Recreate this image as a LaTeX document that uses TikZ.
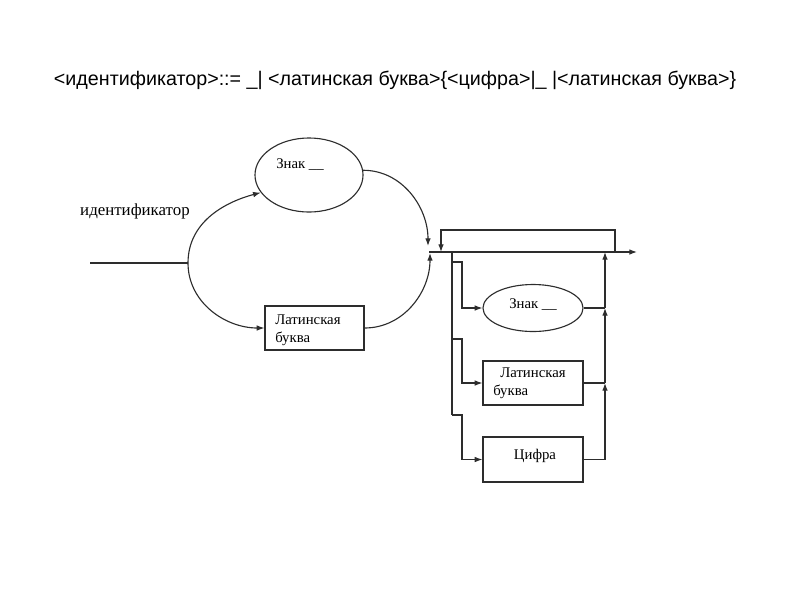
\documentclass[tikz,border=0pt]{standalone}
\usepackage{fontspec}
\setmainfont{Liberation Serif}
\newfontfamily\titlefont{Liberation Sans}
\usetikzlibrary{shapes.geometric,arrows.meta}
\definecolor{ln}{RGB}{45,45,45}
\def\boxw{2.5cm}
\def\boxh{1.1cm}
\tikzset{
  pbox/.style={draw=ln,line width=0.8pt,rectangle,minimum width=\boxw,minimum height=\boxh,inner sep=0pt},
  pell/.style={draw=ln,line width=0.8pt,ellipse,inner sep=0pt},
  txt/.style={font=\fontsize{10.5}{12.5}\selectfont,inner sep=0pt},
  flow/.style={draw=ln,line width=0.8pt},
}

\begin{document}
\begin{tikzpicture}[x=0.025cm,y=-0.025cm,>={Latex[length=5.5pt,width=4pt]}]
\useasboundingbox (0,0) rectangle (800,600);
\node[font=\titlefont\fontsize{14}{16}\selectfont] (title) at (395,80)
  {<идентификатор>::= \_| <латинская буква>\{<цифра>|\_ |<латинская буква>\}};

% left part
\node[txt,font=\fontsize{12}{14}\selectfont] (name) at (135,211) {идентификатор};
\coordinate (in) at (90,263);
\coordinate (split) at (188,263);
\node[pell,minimum width=2.7cm,minimum height=1.85cm] (zn1) at (309,175) {};
\node[txt] (zn1t) at (300,165) {Знак \_\_};
\node[pbox,minimum width=2.475cm] (lb1) at (314.5,328) {};
\node[txt,align=left,anchor=west] (lb1t) at (275,330) {Латинская\\буква};

\coordinate (jn) at (429,252);
\coordinate (jtop) at (428,246);
\coordinate (jbot) at (430,253);

\draw[flow] (in) -- (split);
\draw[flow,->] (split) to[out=90,in=195] (zn1.200);
\draw[flow,->] (split) to[out=-90,in=180] (lb1.west);
\draw[flow,->] (zn1.5) to[out=0,in=90] (jtop);
\draw[flow,->] (lb1.east) to[out=0,in=-90] (jbot);

% right part
\node[pell,minimum width=2.5cm,minimum height=1.175cm] (zn2) at (533,308) {};
\node[txt] (zn2t) at (533,305) {Знак \_\_};
\node[pbox] (lb2) at (533,383) {};
\node[txt,align=left,anchor=west] (lb2t) at (493,383) {\hspace{5pt}Латинская\\буква};
\node[pbox,minimum height=1.125cm] (cf) at (533,459.5) {};
\node[txt] (cft) at (535,456) {Цифра};

\coordinate (out) at (637,252);
\coordinate (lpa) at (615,252);
\coordinate (lpb) at (441,252);
\coordinate (br) at (452,252);
\coordinate (brend) at (452,415);
\coordinate (rmerge) at (605,252);

\draw[flow,->] (jn) -- (out);
\draw[flow,->] (lpa) -- ++(0,-22) -| (lpb);
\draw[flow] (br) -- (brend);
\foreach \y/\t in {262/zn2,339/lb2,415/cf}{
  \coordinate (b\t) at (452,\y);
  \draw[flow,->] (b\t) -- ++(10,0) |- (\t.west);
}
\draw[flow,->] (cf.east) -| (lb2.east -| rmerge);
\draw[flow] (lb2.east) -- (lb2.east -| rmerge);
\draw[flow,->] (lb2.east -| rmerge) -- (zn2.east -| rmerge);
\draw[flow] (zn2.east) -- (zn2.east -| rmerge);
\draw[flow,->] (zn2.east -| rmerge) -- (rmerge);
\end{tikzpicture}
\end{document}
